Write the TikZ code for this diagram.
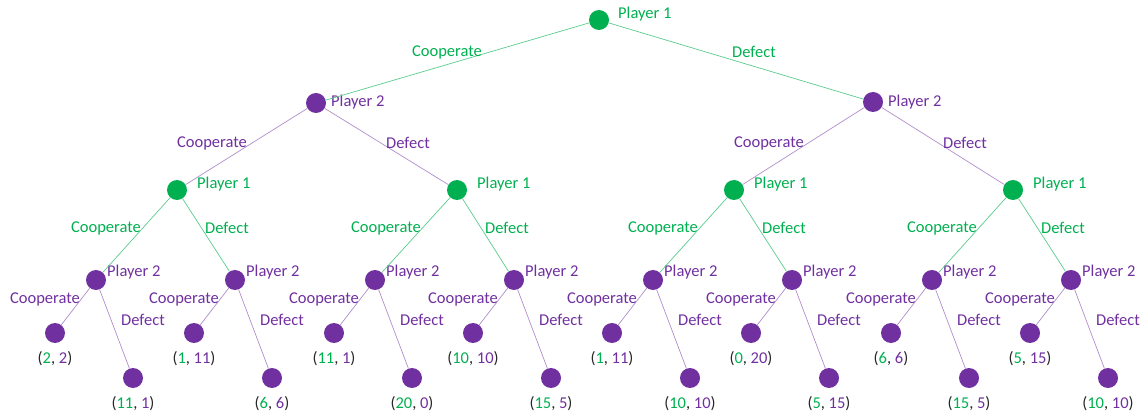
\documentclass[tikz,border=0pt]{standalone}
\usepackage{fontspec}
\setmainfont{Carlito}
\usetikzlibrary{positioning}
\definecolor{pgreen}{HTML}{00B050}
\definecolor{ppurple}{HTML}{7030A0}
\definecolor{pdark}{HTML}{262626}

\begin{document}
\begin{tikzpicture}[x=1pt, y=-1pt]
		\tikzstyle{gnode} = [circle, fill = pgreen, minimum size = 20pt, inner sep = 0pt];
		\tikzstyle{pnode} = [circle, fill = ppurple, minimum size = 20pt, inner sep = 0pt];
		\tikzstyle{gtext} = [text = pgreen, inner sep = 0pt, yshift = -2pt, font = \fontsize{16.5}{19}\selectfont];
		\tikzstyle{ptext} = [text = ppurple, inner sep = 0pt, yshift = -2pt, font = \fontsize{16.5}{19}\selectfont];
		\tikzstyle{paytext} = [text = pdark, inner sep = 0pt, yshift = -2pt, font = \fontsize{16.5}{19}\selectfont];
		\tikzstyle{gpath} = [draw, pgreen!65, line width = 0.7pt];
		\tikzstyle{ppath} = [draw, ppurple!55, line width = 0.7pt];
		\useasboundingbox (0,0) rectangle (1144,414);
		% first move, player 1
		\node (r) [gnode] at (599,20) {};
		\node (r-lab) [gtext, anchor = west] at (618,12) {Player 1};
		\node (a) [pnode] at (316,103) {};
		\node (b) [pnode] at (873,102) {};
		\node (a-lab) [ptext, anchor = west] at (331,100) {Player 2};
		\node (b-lab) [ptext, anchor = west] at (888,100) {Player 2};
		\path [gpath] (r) -- (a);
		\path [gpath] (r) -- (b);
		\node (ra-lab) [gtext] at (447,50) {Cooperate};
		\node (rb-lab) [gtext] at (754,50) {Defect};
		% second move, player 2
		\node (aa) [gnode] at (177,190) {};
		\node (ab) [gnode] at (457,190) {};
		\node (ba) [gnode] at (734,190) {};
		\node (bb) [gnode] at (1013,190) {};
		\path [ppath] (a) -- (aa);
		\path [ppath] (a) -- (ab);
		\path [ppath] (b) -- (ba);
		\path [ppath] (b) -- (bb);
		\node (aa-edge) [ptext] at (212,141) {Cooperate};
		\node (ab-edge) [ptext] at (408,141) {Defect};
		\node (ba-edge) [ptext] at (769,141) {Cooperate};
		\node (bb-edge) [ptext] at (965,141) {Defect};
		% third move, player 1
		\foreach \n/\x in {aa/177, ab/457, ba/734, bb/1013} {
			\node (\n-lab) [gtext, anchor = west] at (\x+20,182) {Player 1};
			\node (\n-c) [gtext] at (\x-71,226) {Cooperate};
			\node (\n-d) [gtext] at (\x+50,226) {Defect};
		}
		% last move, player 2, and payoffs
		\foreach \p/\q/\x/\ca/\cb/\da/\db in {aa/aaa/96/2/2/11/1, aa/aab/235/1/11/6/6,
				ab/aba/375/11/1/20/0, ab/abb/514/10/10/15/5, ba/baa/653/1/11/10/10,
				ba/bab/792/0/20/5/15, bb/bba/932/6/6/15/5, bb/bbb/1071/5/15/10/10} {
			\node (\q) [pnode] at (\x,280) {};
			\node (\q-lab) [ptext, anchor = west] at (\x+11,270) {Player 2};
			\path [gpath] (\p) -- (\q);
			\node (\q-c) [pnode] at (\x-41,333) {};
			\node (\q-d) [pnode] at (\x+37,378) {};
			\path [ppath] (\q) -- (\q-c);
			\path [ppath] (\q) -- (\q-d);
			\node (\q-cedge) [ptext] at (\x-51,297) {Cooperate};
			\node (\q-dedge) [ptext] at (\x+47,318) {Defect};
			\node (\q-cpay) [paytext] at (\x-41,357) {(\textcolor{pgreen}{\ca}, \textcolor{ppurple}{\cb})};
			\node (\q-dpay) [paytext] at (\x+37,402) {(\textcolor{pgreen}{\da}, \textcolor{ppurple}{\db})};
		}
	\end{tikzpicture}
\end{document}
